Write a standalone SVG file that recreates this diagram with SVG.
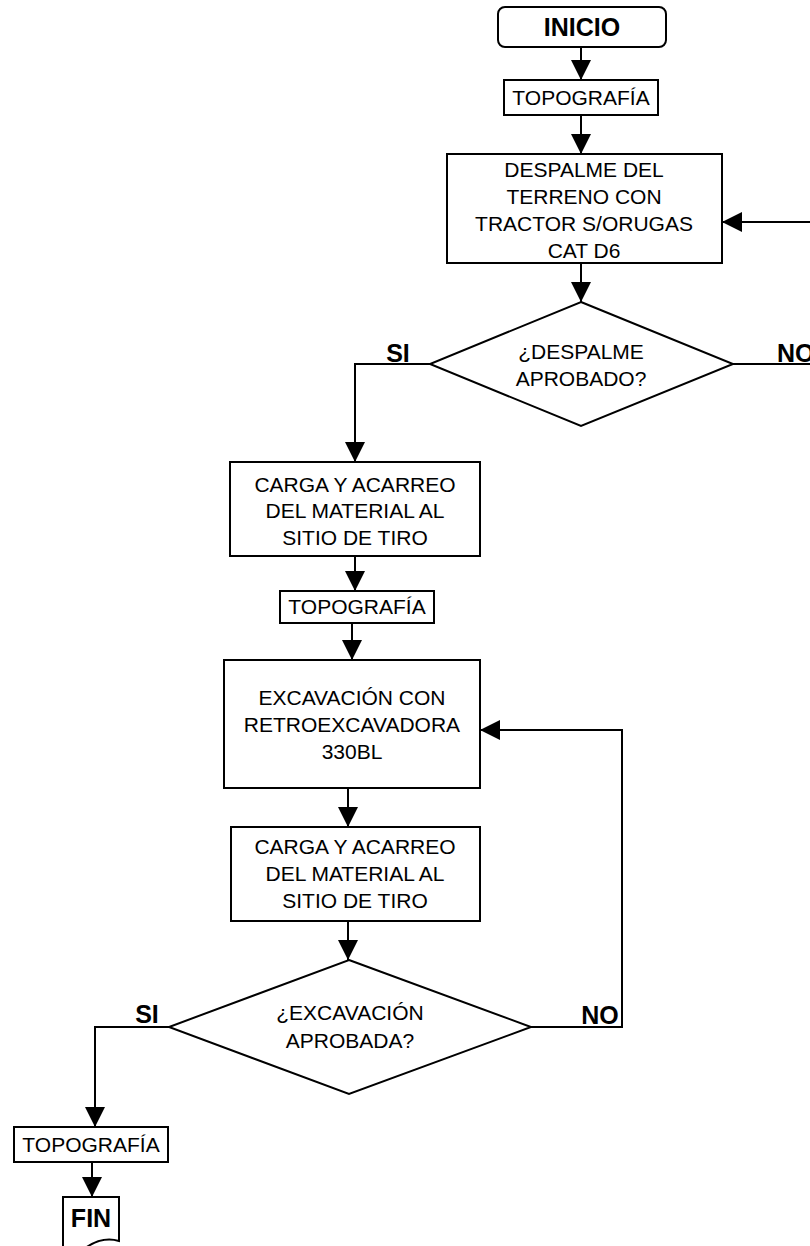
<svg xmlns="http://www.w3.org/2000/svg" width="810" height="1246" viewBox="0 0 810 1246">
<style>
.box{fill:#fff;stroke:#000;stroke-width:2}
.t{font-family:"Liberation Sans",Arial,sans-serif;font-size:21px;fill:#000;text-anchor:middle}
.b{font-family:"Liberation Sans",Arial,sans-serif;font-size:25px;font-weight:bold;fill:#000;text-anchor:middle}
.c{fill:none;stroke:#000;stroke-width:2}
</style>
<defs>
<marker id="ah" markerWidth="20" markerHeight="20" refX="20" refY="10" orient="auto" markerUnits="userSpaceOnUse">
<path d="M0,0 L20,10 L0,20 Z" fill="#000"/>
</marker>
</defs>
<rect width="810" height="1246" fill="#fff"/>
<g id="connectors">
<path class="c" d="M581,47 V80" marker-end="url(#ah)"/>
<path class="c" d="M581,115 V154" marker-end="url(#ah)"/>
<path class="c" d="M581,263 V302" marker-end="url(#ah)"/>
<path class="c" d="M733,364 H815"/>
<path class="c" d="M815,222 H722" marker-end="url(#ah)"/>
<path class="c" d="M430,364 H355 V462" marker-end="url(#ah)"/>
<path class="c" d="M355,556 V591" marker-end="url(#ah)"/>
<path class="c" d="M352,623 V660" marker-end="url(#ah)"/>
<path class="c" d="M348,788 V827" marker-end="url(#ah)"/>
<path class="c" d="M348,921 V960" marker-end="url(#ah)"/>
<path class="c" d="M531,1027 H622 V730 H480" marker-end="url(#ah)"/>
<path class="c" d="M169,1027 H95 V1127" marker-end="url(#ah)"/>
<path class="c" d="M92,1162 V1197" marker-end="url(#ah)"/>
</g>
<g id="inicio">
<rect class="box" x="498" y="7" width="168" height="40" rx="7"/>
<text class="b" x="582" y="36">INICIO</text>
</g>
<g id="topografia1">
<rect class="box" x="504" y="80" width="154" height="35"/>
<text class="t" x="581" y="105">TOPOGRAFÍA</text>
</g>
<g id="despalme">
<rect class="box" x="447" y="154" width="275" height="109"/>
<text class="t" x="584" y="177">DESPALME DEL</text>
<text class="t" x="584" y="204">TERRENO CON</text>
<text class="t" x="584" y="231">TRACTOR S/ORUGAS</text>
<text class="t" x="584" y="258">CAT D6</text>
</g>
<g id="decision1">
<polygon class="box" points="581,302 733,364 581,426 430,364"/>
<text class="t" x="581" y="359">¿DESPALME</text>
<text class="t" x="581" y="386">APROBADO?</text>
<text class="b" x="398" y="362">SI</text>
<text class="b" x="777" y="362" style="text-anchor:start">NO</text>
</g>
<g id="carga1">
<rect class="box" x="230" y="462" width="250" height="94"/>
<text class="t" x="355" y="492">CARGA Y ACARREO</text>
<text class="t" x="355" y="518">DEL MATERIAL AL</text>
<text class="t" x="355" y="545">SITIO DE TIRO</text>
</g>
<g id="topografia2">
<rect class="box" x="280" y="591" width="154" height="32"/>
<text class="t" x="357" y="614">TOPOGRAFÍA</text>
</g>
<g id="excavacion">
<rect class="box" x="224" y="660" width="256" height="128"/>
<text class="t" x="352" y="705">EXCAVACIÓN CON</text>
<text class="t" x="352" y="732">RETROEXCAVADORA</text>
<text class="t" x="352" y="759">330BL</text>
</g>
<g id="carga2">
<rect class="box" x="231" y="827" width="249" height="94"/>
<text class="t" x="355" y="854">CARGA Y ACARREO</text>
<text class="t" x="355" y="881">DEL MATERIAL AL</text>
<text class="t" x="355" y="908">SITIO DE TIRO</text>
</g>
<g id="decision2">
<polygon class="box" points="349,960 531,1027 349,1094 169,1027"/>
<text class="t" x="350" y="1020">¿EXCAVACIÓN</text>
<text class="t" x="350" y="1048">APROBADA?</text>
<text class="b" x="147" y="1023">SI</text>
<text class="b" x="600" y="1024">NO</text>
</g>
<g id="topografia3">
<rect class="box" x="14" y="1127" width="154" height="35"/>
<text class="t" x="91" y="1152">TOPOGRAFÍA</text>
</g>
<g id="fin">
<path class="box" d="M63,1197 H119 V1241 C106,1237 92,1242 80,1252 L63,1252 Z"/>
<text class="b" x="91" y="1227">FIN</text>
</g>
</svg>
